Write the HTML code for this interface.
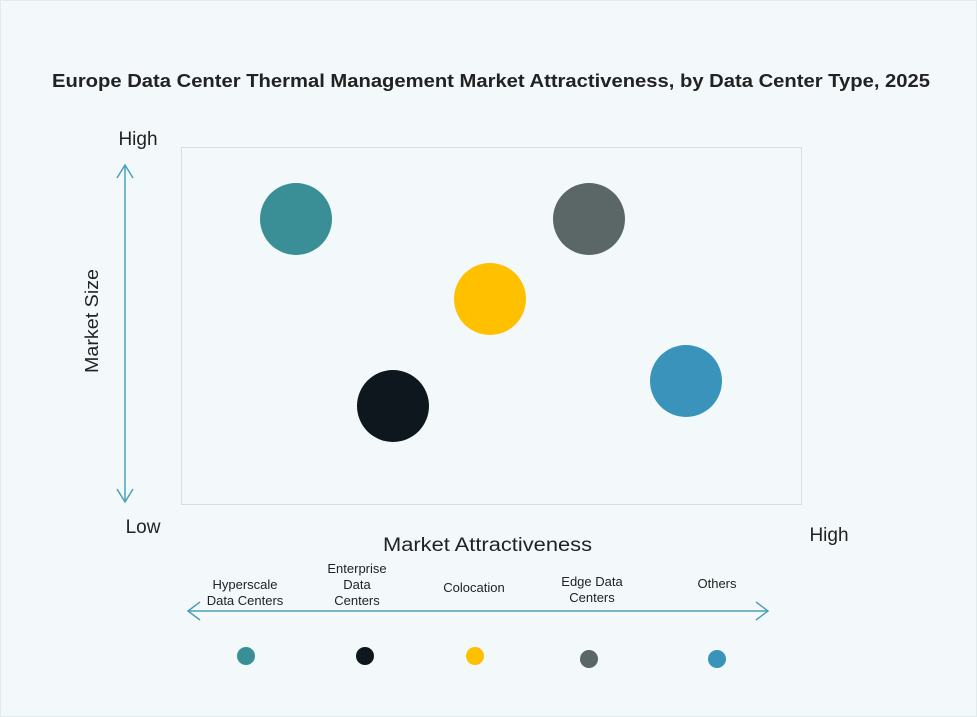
<!DOCTYPE html>
<html><head><style>
body{margin:0;background:#fff}
svg{display:block}
text{font-family:"Liberation Sans",sans-serif;fill:#222}
</style></head><body>
<svg width="977" height="717" viewBox="0 0 977 717">
<rect x="0" y="0" width="977" height="717" fill="#f3f9fa"/>
<rect x="0.5" y="0.5" width="976" height="716" fill="none" stroke="#e3eced"/>
<text x="52" y="87" textLength="878" lengthAdjust="spacingAndGlyphs" font-size="18" font-weight="bold" fill="#111">Europe Data Center Thermal Management Market Attractiveness,  by Data Center Type, 2025</text>
<rect x="181.5" y="147.5" width="620" height="357" fill="none" stroke="#d3e0e2"/>
<text x="138" y="145" text-anchor="middle" font-size="19">High</text>
<text x="143" y="533" text-anchor="middle" font-size="19">Low</text>
<text x="829" y="541" text-anchor="middle" font-size="19">High</text>
<text x="383" y="551" textLength="209" lengthAdjust="spacingAndGlyphs" font-size="19">Market Attractiveness</text>
<text transform="translate(98,321) rotate(-90)" x="-52" textLength="104" lengthAdjust="spacingAndGlyphs" font-size="18">Market Size</text>
<g stroke="#4d9fb8" stroke-width="1.5" fill="none">
<line x1="125" y1="165" x2="125" y2="502"/>
<polyline points="117,178 125,165 133,178"/>
<polyline points="117,489 125,502 133,489"/>
<line x1="188" y1="611" x2="768" y2="611"/>
<polyline points="200,602 188,611 200,620"/>
<polyline points="756,602 768,611 756,620"/>
</g>
<circle cx="296" cy="219" r="36" fill="#3a8f96"/>
<circle cx="589" cy="219" r="36" fill="#5b6667"/>
<circle cx="490" cy="299" r="36" fill="#ffc000"/>
<circle cx="393" cy="406" r="36" fill="#0e161e"/>
<circle cx="686" cy="381" r="36" fill="#3a93bb"/>
<g font-size="13" text-anchor="middle">
<text x="245" y="589">Hyperscale</text><text x="245" y="605">Data Centers</text>
<text x="357" y="573">Enterprise</text><text x="357" y="589">Data</text><text x="357" y="605">Centers</text>
<text x="474" y="592">Colocation</text>
<text x="592" y="586">Edge Data</text><text x="592" y="602">Centers</text>
<text x="717" y="588">Others</text>
</g>
<circle cx="246" cy="656" r="9" fill="#3a8f96"/>
<circle cx="365" cy="656" r="9" fill="#0e161e"/>
<circle cx="475" cy="656" r="9" fill="#ffc000"/>
<circle cx="589" cy="659" r="9" fill="#5b6667"/>
<circle cx="717" cy="659" r="9" fill="#3a93bb"/>
</svg>
</body></html>
